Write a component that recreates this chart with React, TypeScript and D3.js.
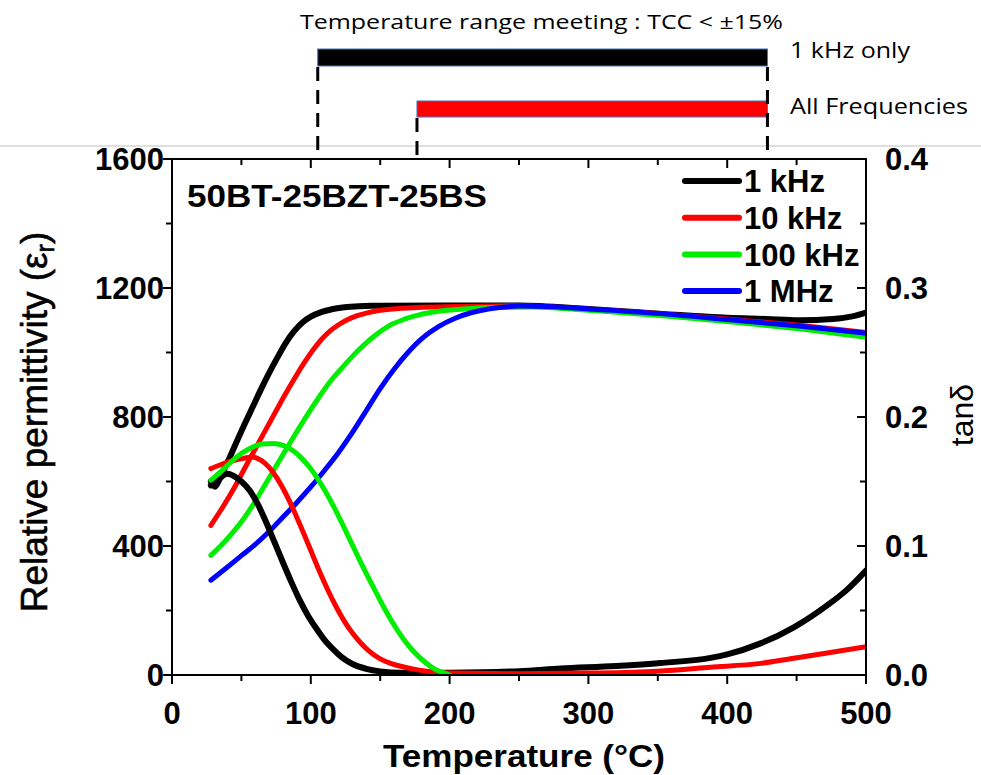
import React from "react";
import * as d3 from "d3";

// ---------- data ----------
const seriesNames = ["1 kHz", "10 kHz", "100 kHz", "1 MHz"];
const seriesColors = ["#000000", "#ff0000", "#00ee00", "#0000ff"];

// relative permittivity  [T (°C), eps_r]
const eps1k: [number, number][] = [
  [28, 588], [34, 610], [40, 660], [46, 718], [52, 775], [58, 830], [64, 885], [70, 937],
  [76, 985], [82, 1030], [88, 1066], [94, 1093], [100, 1111], [108, 1126], [116, 1135],
  [126, 1141], [144, 1145], [200, 1146], [250, 1146], [300, 1135], [356, 1119], [400, 1108],
  [428, 1104], [452, 1100], [476, 1104], [490, 1112], [500, 1124],
];
const eps10k: [number, number][] = [
  [28, 464], [35, 510], [40, 545], [46.6, 594], [52, 638], [58.6, 690], [64, 733], [70.8, 786],
  [77, 835], [84, 888], [90, 932], [96, 973], [102, 1010], [108, 1042], [114, 1067], [120, 1086],
  [126, 1101], [132, 1112], [140, 1122], [149, 1130], [165, 1137], [180, 1140], [210, 1143],
  [250, 1145], [300, 1134], [356, 1119], [400, 1104], [450, 1085], [500, 1062],
];
const eps100k: [number, number][] = [
  [28, 371], [35, 400], [42, 433], [50, 475], [58, 525], [66, 582], [74, 640], [82, 698],
  [90, 755], [98, 810], [106, 862], [114, 910], [122, 950], [130, 988], [138, 1022],
  [146, 1052], [156, 1082], [168, 1104], [180, 1119], [192, 1128], [210, 1135], [236, 1140],
  [260, 1141], [300, 1131], [356, 1113], [400, 1096], [450, 1074], [500, 1047],
];
const eps1M: [number, number][] = [
  [28, 294], [40, 335], [50, 370], [60, 405], [70, 445], [80, 490], [90, 535], [100, 583],
  [110, 635], [120, 690], [130, 752], [140, 820], [150, 888], [160, 948], [170, 1000],
  [180, 1043], [192, 1080], [204, 1106], [216, 1124], [228, 1135], [240, 1141], [250, 1144],
  [270, 1143], [300, 1135], [356, 1119], [400, 1102], [450, 1083], [500, 1060],
];

// tan delta  [T (°C), tanδ]
const tan1k: [number, number][] = [
  [28, 0.150], [31, 0.146], [35, 0.153], [40, 0.156], [45, 0.154], [50, 0.150], [56, 0.143],
  [62, 0.132], [68, 0.118], [74, 0.1025], [80, 0.087], [86, 0.072], [92, 0.058], [98, 0.046],
  [104, 0.036], [110, 0.027], [116, 0.020], [122, 0.014], [130, 0.0085], [140, 0.0048],
  [150, 0.0028], [165, 0.0017], [200, 0.0018], [250, 0.003], [280, 0.005], [320, 0.007],
  [352, 0.0093], [388, 0.0133], [400, 0.016], [424, 0.0245], [448, 0.037], [472, 0.054],
  [486, 0.0658], [500, 0.081],
];
const tan10k: [number, number][] = [
  [28, 0.160], [35, 0.163], [45, 0.1665], [52, 0.168], [58, 0.169], [64, 0.1665], [70, 0.161],
  [76, 0.152], [82, 0.1405], [88, 0.127], [94, 0.112], [100, 0.0965], [106, 0.081],
  [112, 0.0665], [118, 0.0535], [124, 0.042], [130, 0.0325], [136, 0.0248], [142, 0.0185],
  [150, 0.0125], [158, 0.0088], [167, 0.0062], [178, 0.0038], [190, 0.0022], [200, 0.0015],
  [250, 0.001], [300, 0.0015], [350, 0.003], [388, 0.006], [424, 0.009], [448, 0.013],
  [472, 0.017], [500, 0.022],
];
const tan100k: [number, number][] = [
  [28, 0.151], [35, 0.1575], [40, 0.1625], [46.6, 0.169], [55, 0.175], [65, 0.179],
  [73, 0.1795], [80, 0.178], [87, 0.174], [93, 0.1685], [99, 0.1612], [105, 0.152],
  [111, 0.1415], [117, 0.1295], [123, 0.1165], [129, 0.103], [135, 0.0895], [141, 0.0765],
  [147, 0.064], [153, 0.0518], [159, 0.0405], [165, 0.0305], [171, 0.022], [177, 0.015],
  [183, 0.0093], [189, 0.0048], [195, 0.002], [200, 0.0],
];

const xTicks = [0, 100, 200, 300, 400, 500];
const yTicks = [0, 400, 800, 1200, 1600];
const yRTicks = [0, 0.1, 0.2, 0.3, 0.4];

// TCC ranges (°C)
const range1kHz: [number, number] = [105, 429];
const rangeAll: [number, number] = [176.5, 429];

const sample = "50BT-25BZT-25BS";
const annotationTitle = "Temperature range meeting : TCC < ±15%";
const rangeLabels = ["1 kHz only", "All Frequencies"];

// ---------- layout ----------
const W = 981;
const H = 775;
const L = 172, R = 866, T = 159, B = 675;

export default function App() {
  const x = d3.scaleLinear().domain([0, 500]).range([L, R]);
  const y = d3.scaleLinear().domain([0, 1600]).range([B, T]);
  const yR = d3.scaleLinear().domain([0, 0.4]).range([B, T]);

  const lineEps = d3
    .line<[number, number]>()
    .x((d) => x(d[0]))
    .y((d) => y(d[1]))
    .curve(d3.curveMonotoneX);
  const lineTan = d3
    .line<[number, number]>()
    .x((d) => x(d[0]))
    .y((d) => yR(d[1]))
    .curve(d3.curveMonotoneX);

  const epsSeries = [eps1k, eps10k, eps100k, eps1M];
  const tanSeries = [tan1k, tan10k, tan100k];

  const xMinor = d3.range(0, 501, 50);
  const yMinor = d3.range(0, 1601, 200);

  const arial = "'Liberation Sans', Arial, sans-serif";
  const calibri = "'Open Sans', 'Liberation Sans', sans-serif";

  return (
    <div style={{ position: "absolute", left: 0, top: 0, width: W, height: H, background: "#fff" }}>
      <svg width={W} height={H} viewBox={`0 0 ${W} ${H}`} style={{ display: "block" }}>
        <defs>
          <clipPath id="plotClip">
            <rect x={L} y={T} width={R - L} height={B - T} />
          </clipPath>
        </defs>

        {/* ---------- top annotation ---------- */}
        <text
          x={300}
          y={29}
          fontFamily={calibri}
          fontSize={20}
          textLength={483}
          lengthAdjust="spacingAndGlyphs"
          fill="#000"
        >
          {annotationTitle}
        </text>
        <rect
          x={x(range1kHz[0])}
          y={49}
          width={x(range1kHz[1]) - x(range1kHz[0])}
          height={17}
          fill="#000"
          stroke="#4472c4"
          strokeWidth={1}
        />
        <rect
          x={x(rangeAll[0])}
          y={101}
          width={x(rangeAll[1]) - x(rangeAll[0])}
          height={16}
          fill="#ff0000"
          stroke="#4472c4"
          strokeWidth={1}
        />
        <text x={790} y={58} fontFamily={calibri} fontSize={21} textLength={120} lengthAdjust="spacingAndGlyphs">
          {rangeLabels[0]}
        </text>
        <text x={790} y={114} fontFamily={calibri} fontSize={21} textLength={178} lengthAdjust="spacingAndGlyphs">
          {rangeLabels[1]}
        </text>
        <line x1={0} x2={W} y1={146} y2={146} stroke="#d4d4d4" strokeWidth={1.5} />
        {[
          [range1kHz[0], 67],
          [rangeAll[0], 118],
          [range1kHz[1], 67],
        ].map(([t, y0], i) => (
          <line
            key={"dash" + i}
            x1={x(t)}
            x2={x(t)}
            y1={y0}
            y2={156}
            stroke="#000"
            strokeWidth={3}
            strokeDasharray="14 9"
          />
        ))}

        {/* ---------- curves ---------- */}
        <g clipPath="url(#plotClip)" fill="none" strokeLinecap="round" strokeLinejoin="round">
          {epsSeries.map((s, i) => (
            <path
              key={"eps" + i}
              d={lineEps(s) || ""}
              stroke={seriesColors[i]}
              strokeWidth={i === 0 ? 6 : 5}
            />
          ))}
          {tanSeries.map((s, i) => (
            <path
              key={"tan" + i}
              d={lineTan(s) || ""}
              stroke={seriesColors[i]}
              strokeWidth={i === 0 ? 6 : 5}
            />
          ))}
        </g>

        {/* ---------- frame & axes ---------- */}
        <g stroke="#000" strokeWidth={2} fill="none">
          <rect x={L} y={T} width={R - L} height={B - T} />
          {xMinor.map((t) => (
            <line key={"xb" + t} x1={x(t)} x2={x(t)} y1={B} y2={B + (t % 100 === 0 ? 9 : 6)} />
          ))}
          {xMinor.map((t) => (
            <line key={"xt" + t} x1={x(t)} x2={x(t)} y1={T} y2={T + (t % 100 === 0 ? 9 : 6)} />
          ))}
          {yMinor.map((v) => (
            <line key={"yl" + v} x1={L} x2={L - (v % 400 === 0 ? 9 : 6)} y1={y(v)} y2={y(v)} />
          ))}
          {yMinor.map((v) => (
            <line key={"yr" + v} x1={R} x2={R - (v % 400 === 0 ? 9 : 6)} y1={y(v)} y2={y(v)} />
          ))}
        </g>

        <g fontFamily={arial} fontWeight="bold" fontSize={31} fill="#000">
          {xTicks.map((t) => (
            <text key={"xl" + t} x={x(t)} y={724} textAnchor="middle">
              {t}
            </text>
          ))}
          {yTicks.map((v) => (
            <text key={"yll" + v} x={164} y={y(v)} dy="0.36em" textAnchor="end">
              {v}
            </text>
          ))}
          {yRTicks.map((v) => (
            <text key={"yrl" + v} x={885} y={yR(v)} dy="0.36em" textAnchor="start">
              {d3.format(".1f")(v)}
            </text>
          ))}
        </g>

        {/* axis titles */}
        <text
          x={524}
          y={767}
          textAnchor="middle"
          fontFamily={arial}
          fontWeight="bold"
          fontSize={32}
          textLength={282}
          lengthAdjust="spacingAndGlyphs"
        >
          Temperature (°C)
        </text>
        <text
          transform={`translate(47,422) rotate(-90)`}
          textAnchor="middle"
          fontFamily={arial}
          fontSize={37}
          stroke="#000"
          strokeWidth={0.6}
        >
          Relative permittivity (ε
          <tspan fontSize={25} dy={7}>
            r
          </tspan>
          <tspan dy={-7}>)</tspan>
        </text>
        <text
          transform={`translate(973,415) rotate(-90)`}
          textAnchor="middle"
          fontFamily={arial}
          fontSize={32}
        >
          tanδ
        </text>

        {/* sample label */}
        <text
          x={187}
          y={207}
          fontFamily={arial}
          fontWeight="bold"
          fontSize={31}
          textLength={300}
          lengthAdjust="spacingAndGlyphs"
        >
          {sample}
        </text>

        {/* legend */}
        {seriesNames.map((n, i) => {
          const ly = 181 + i * 36.7;
          return (
            <g key={"lg" + i}>
              <line
                x1={685}
                x2={739}
                y1={ly}
                y2={ly}
                stroke={seriesColors[i]}
                strokeWidth={6}
                strokeLinecap="round"
              />
              <text x={744} y={ly} dy="0.36em" fontFamily={arial} fontWeight="bold" fontSize={31}>
                {n}
              </text>
            </g>
          );
        })}
      </svg>
    </div>
  );
}
